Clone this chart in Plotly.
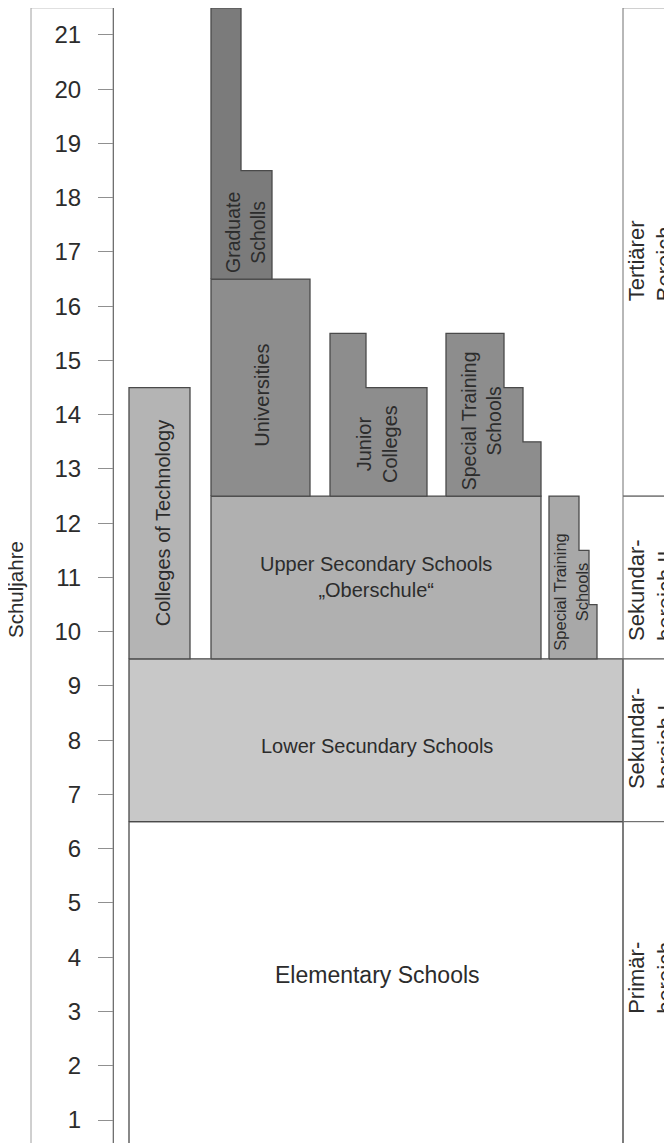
import plotly.graph_objects as go

# ---------------- data ----------------
years = list(range(1, 22))                      # Schuljahre tick values
y_range = [0.576, 21.497]
x_range = [8, 672]

block_names = ["Elementary Schools", "Lower Secundary Schools", "Colleges of Technology",
               "Upper Secondary Schools", "Universities", "Graduate Scholls",
               "Junior Colleges", "Special Training Schools (tert.)",
               "Special Training Schools (sek. II)"]
block_left = [129, 129, 129, 211, 211, 211, 330, 446, 549]
block_bottom = [0.5, 6.5, 9.5, 9.5, 12.5, 16.5, 12.5, 12.5, 9.5]
block_step_right = [[623], [623], [190], [541], [310], [241, 272],
                    [366, 427], [504, 523, 541], [579, 589, 597]]
block_step_top = [[6.5], [9.5], [14.5], [12.5], [16.5], [21.5, 18.5],
                  [15.5, 14.5], [15.5, 14.5, 13.5], [12.5, 11.5, 10.5]]
block_color = ["#ffffff", "#c8c8c8", "#b4b4b4", "#b0b0b0", "#8d8d8d", "#7b7b7b",
               "#8d8d8d", "#8d8d8d", "#a8a8a8"]

label_text = ["Elementary Schools", "Lower Secundary Schools", "Colleges of Technology",
              "Upper Secondary Schools<br>„Oberschule“", "Universities",
              "Graduate<br>Scholls", "Junior<br>Colleges", "Special Training<br>Schools",
              "Special Training<br>Schools"]
label_x = [377, 377, 163, 376, 262, 246, 377, 481, 571]
label_y = [3.67, 7.9, 12.0, 11.0, 14.35, 17.35, 13.46, 13.88, 10.72]
label_angle = [0, 0, -90, 0, -90, -90, -90, -90, -90]
label_size = [23, 20, 20, 20, 20, 19.5, 20, 19.5, 16.5]

stage_text = ["Tertiärer<br>Bereich", "Sekundar-<br>bereich II",
              "Sekundar-<br>bereich I", "Primär-<br>bereich"]
stage_y = [16.83, 10.77, 8.04, 3.62]
stage_bounds = [21.5, 12.5, 9.5, 6.5, 0.3]

FONT = "Liberation Sans, Arial, Helvetica, sans-serif"
TXT = "#2c2c2c"
EDGE = "#4a4a4a"

fig = go.Figure()

# frame on the left holding the axis
fig.add_shape(type="rect", x0=31, x1=113, y0=0, y1=21.5, xref="x", yref="y",
              line=dict(color="#a0a0a0", width=1), fillcolor="rgba(0,0,0,0)", layer="below")

# blocks
for name, x0, b, rights, tops, col in zip(block_names, block_left, block_bottom,
                                          block_step_right, block_step_top, block_color):
    xs = [x0, x0]
    ys = [b, tops[0]]
    for i, (xr, t) in enumerate(zip(rights, tops)):
        xs.append(xr)
        ys.append(t)
        if i + 1 < len(tops):
            xs.append(xr)
            ys.append(tops[i + 1])
    xs += [rights[-1], x0]
    ys += [b, b]
    fig.add_trace(go.Scatter(x=xs, y=ys, mode="lines", fill="toself", fillcolor=col,
                             line=dict(color=EDGE, width=1.3), name=name,
                             hoverinfo="name", showlegend=False))

# stage column on the right
for i in range(len(stage_text)):
    fig.add_shape(type="rect", x0=623, x1=720, y0=stage_bounds[i + 1], y1=stage_bounds[i],
                  xref="x", yref="y", line=dict(color="#707070", width=1),
                  fillcolor="rgba(0,0,0,0)")
    fig.add_annotation(x=651, y=stage_y[i], xref="x", yref="y", text=stage_text[i],
                       textangle=-90, showarrow=False, align="left",
                       font=dict(family=FONT, size=22, color=TXT))

for t, x, y, a, s in zip(label_text, label_x, label_y, label_angle, label_size):
    fig.add_annotation(x=x, y=y, xref="x", yref="y", text=t, textangle=a,
                       showarrow=False, align="center",
                       font=dict(family=FONT, size=s, color=TXT))

fig.add_annotation(x=16, y=10.77, xref="x", yref="y", text="Schuljahre", textangle=-90,
                   showarrow=False, font=dict(family=FONT, size=20.5, color=TXT))

fig.update_layout(
    width=664, height=1135, margin=dict(l=0, r=0, t=0, b=0),
    paper_bgcolor="white", plot_bgcolor="white", showlegend=False,
    xaxis=dict(range=x_range, visible=False, fixedrange=True),
    yaxis=dict(range=y_range, tickvals=years, ticktext=[str(v) for v in years],
               anchor="free", position=(113 - x_range[0]) / (x_range[1] - x_range[0]),
               side="left",
               ticks="outside", ticklen=15, tickcolor="#909090", tickwidth=1,
               showline=True, linecolor="#707070", linewidth=1,
               showgrid=False, zeroline=False, automargin=False,
               ticklabelstandoff=12,
               tickfont=dict(family=FONT, size=24, color=TXT)),
)

fig.write_html("out.html")
